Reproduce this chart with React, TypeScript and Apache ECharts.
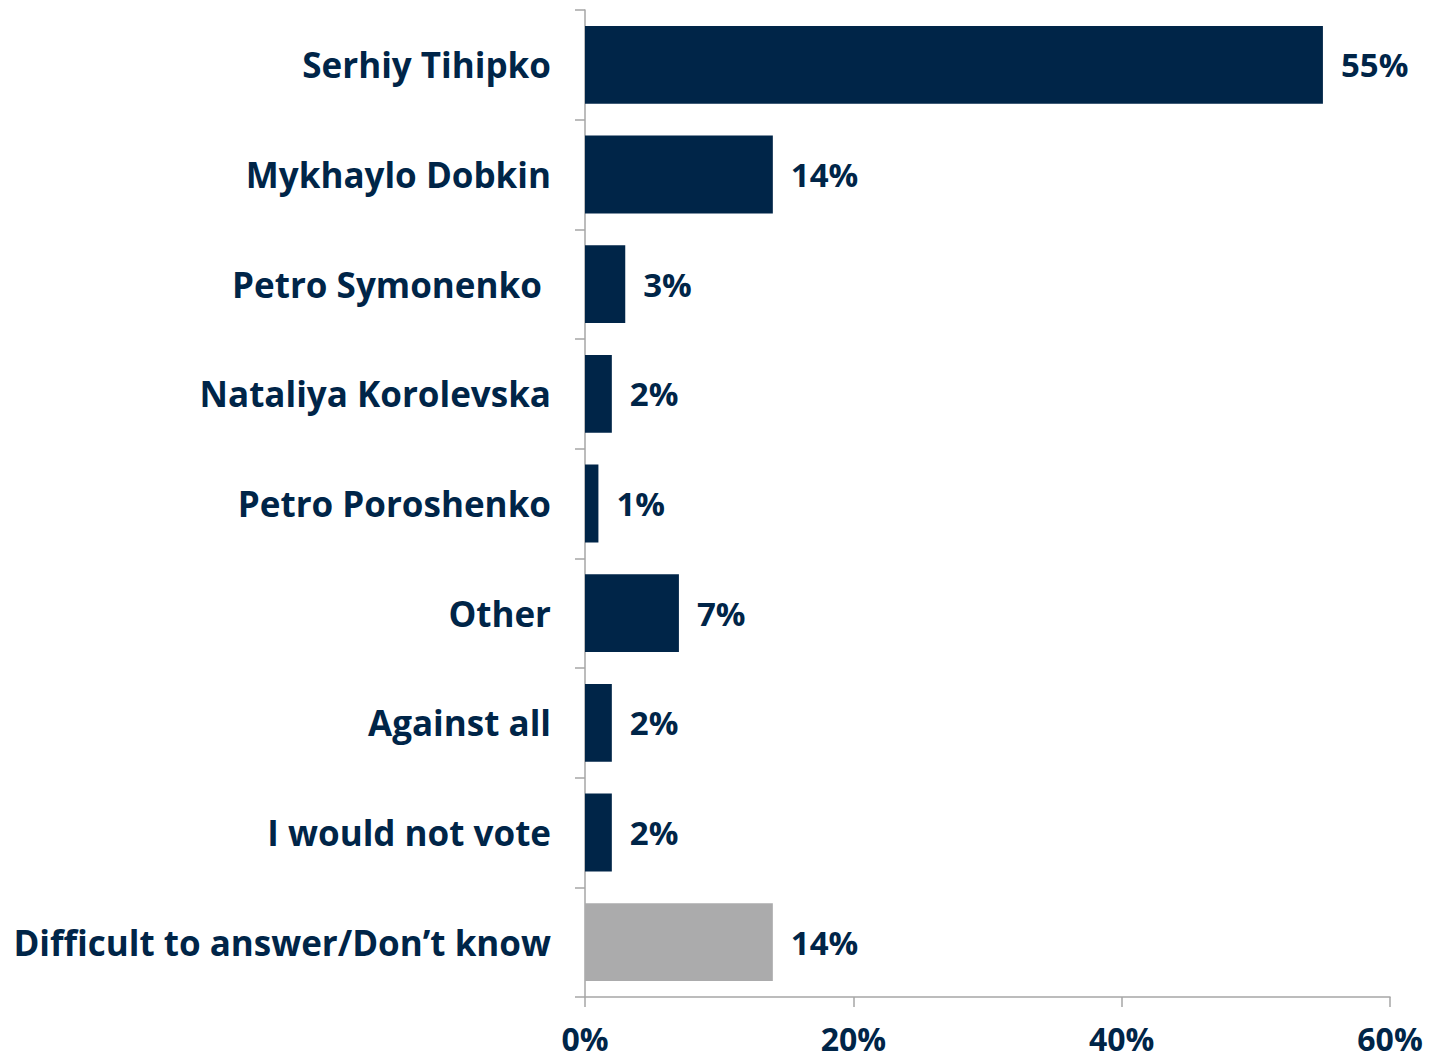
import React, { useEffect, useRef } from "react";
import * as echarts from "echarts";

const categories = [
  "Serhiy Tihipko",
  "Mykhaylo Dobkin",
  "Petro Symonenko ",
  "Nataliya Korolevska",
  "Petro Poroshenko",
  "Other",
  "Against all",
  "I would not vote",
  "Difficult to answer/Don’t know",
];
const values = [55, 14, 3, 2, 1, 7, 2, 2, 14];
const barColors = ["#002548", "#002548", "#002548", "#002548", "#002548", "#002548", "#002548", "#002548", "#ababac"];
const xTicks = [0, 20, 40, 60];

const FONT = "'Open Sans', sans-serif";
const TEXT = "#002548";

export default function App() {
  const ref = useRef<HTMLDivElement>(null);
  useEffect(() => {
    const chart = echarts.init(ref.current!, null, { renderer: "svg" });
    chart.setOption({
      animation: false,
      grid: { left: 585, right: 53, top: 10, bottom: 63 },
      xAxis: {
        type: "value",
        min: xTicks[0],
        max: xTicks[xTicks.length - 1],
        interval: 20,
        axisLine: { show: true, lineStyle: { color: "#a6a6a6", width: 1.5 } },
        axisTick: { show: true, length: 10, lineStyle: { color: "#a6a6a6", width: 1.5 } },
        splitLine: { show: false },
        axisLabel: {
          formatter: "{value}%",
          color: TEXT,
          fontFamily: FONT,
          fontWeight: "bold",
          fontSize: 32,
          margin: 25,
        },
      },
      yAxis: {
        type: "category",
        inverse: true,
        data: categories,
        axisLine: { show: true, lineStyle: { color: "#a6a6a6", width: 1.5 } },
        axisTick: { show: true, length: 10, lineStyle: { color: "#a6a6a6", width: 1.5 } },
        axisLabel: {
          color: TEXT,
          fontFamily: FONT,
          fontWeight: "bold",
          fontSize: 35,
          margin: 34,
        },
      },
      series: [
        {
          type: "bar",
          barWidth: "71%",
          data: values.map((v, i) => ({ value: v, itemStyle: { color: barColors[i] } })),
          label: {
            show: true,
            position: "right",
            distance: 18,
            formatter: "{c}%",
            color: TEXT,
            fontFamily: FONT,
            fontWeight: "bold",
            fontSize: 33,
          },
        },
      ],
    });
    return () => chart.dispose();
  }, []);
  return (
    <div
      ref={ref}
      style={{ position: "fixed", left: 0, top: 0, width: 1443, height: 1060, background: "#fff" }}
    />
  );
}
